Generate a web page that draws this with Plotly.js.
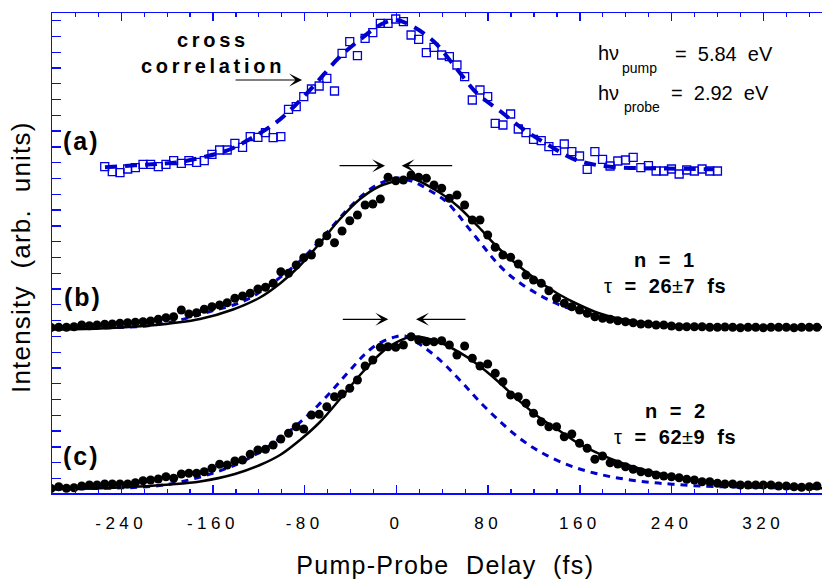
<!DOCTYPE html>
<html>
<head>
<meta charset="utf-8">
<script src="https://cdn.plot.ly/plotly-3.0.1.min.js"></script>
<style>html,body{margin:0;padding:0;background:#fff;}#chart{width:822px;height:581px;}</style>
</head>
<body>
<div id="chart"></div>
<script>
// ---- data (delay in fs, intensity in arbitrary stacked units) ----
const delayA = [-254.4,-247.8,-241.1,-234.4,-227.7,-221.0,-214.4,-207.7,-201.0,-194.3,-187.6,-181.0,-174.3,-167.6,-160.9,-154.2,-147.6,-140.9,-134.2,-127.5,-120.8,-114.2,-107.5,-100.8,-94.1,-87.4,-80.8,-74.1,-67.4,-60.7,-54.0,-47.4,-40.7,-34.0,-27.3,-20.6,-14.0,-7.3,-0.6,6.1,12.8,19.4,26.1,32.8,39.5,46.2,52.8,59.5,66.2,72.9,79.6,86.2,92.9,99.6,106.3,113.0,119.6,126.3,133.0,139.7,146.4,153.0,159.7,166.4,173.1,179.8,186.4,193.1,199.8,206.5,213.2,219.8,226.5,233.2,239.9,246.6,253.2,259.9,266.6,273.3,280.0];
const crossCorr = [326.3,321.3,320.3,324,325.3,328.7,328.7,326.3,328.7,332.3,329.7,332.3,330.7,332.3,338.7,343,343,349.7,345.7,356.3,355.7,360.3,355.3,356.3,383.7,386.3,396.3,404,407,414.7,402,439.7,451.3,437.3,454.7,460.3,469.7,469.7,474,471.3,458,453.7,440.3,445.7,438,436.3,428,416.3,393,403,396.3,369.7,368,379,364,360.3,353.7,352.3,346.3,342.3,349,341.3,337,323.7,341.3,333.7,327,332,333,335.7,325.3,327.3,322,322,324,319,323,322,324,322,322];

const fitAx = [-254.2,-228.0,-207.7,-187.3,-166.9,-146.6,-129.2,-105.9,-88.4,-71.0,-50.7,-30.3,-12.8,-1.2,11.9,32.2,52.0,70.0,90.4,109.3,132.5,156.7,186.3,235.8,276.4];
const fitAy = [325.7,327.7,329,331.3,336.3,343,353,369.7,387.5,408.5,434.7,454.7,469,473,468,452,425,400,382,365,348,333,326.3,324.5,323.7];

const delayBC = [-301.2,-294.5,-287.8,-281.2,-274.5,-267.8,-261.1,-254.4,-247.8,-241.1,-234.4,-227.7,-221.0,-214.4,-207.7,-201.0,-194.3,-187.6,-181.0,-174.3,-167.6,-160.9,-154.2,-147.6,-140.9,-134.2,-127.5,-120.8,-114.2,-107.5,-100.8,-94.1,-87.4,-80.8,-74.1,-67.4,-60.7,-54.0,-47.4,-40.7,-34.0,-27.3,-20.6,-14.0,-7.3,-0.6,6.1,12.8,19.4,26.1,32.8,39.5,46.2,52.8,59.5,66.2,72.9,79.6,86.2,92.9,99.6,106.3,113.0,119.6,126.3,133.0,139.7,146.4,153.0,159.7,166.4,173.1,179.8,186.4,193.1,199.8,206.5,213.2,219.8,226.5,233.2,239.9,246.6,253.2,259.9,266.6,273.3,280.0,286.6,293.3,300.0,306.7,313.4,320.0,326.7,333.4,340.1,346.8,353.4,360.1,366.8];
const signalN1 = [165.5,165.7,165.7,166.3,168,167.3,168,168.7,169,169.7,170.3,170.7,171.3,172,173.7,175.3,176.3,183,179,180.3,183.7,186.3,188,190.3,194.7,197,199.7,204,205.7,209.7,221.3,219.7,228,235.3,238,250.3,257.3,250.3,262,272.3,278,288,289,294,315.7,312.3,313,318,315.7,314.7,308,304.7,294.7,298,288,273,273,258,245.7,238,235.7,229,218,213,209.7,202.3,194.7,189.7,186.3,183,179.7,176.3,174.7,173.7,172.3,171.3,170.3,169,169,168,168,167,166.3,166.3,166.3,166.3,165.7,165.7,166,165.7,165.3,165.7,165.7,165.3,165.7,165.7,165.7,165.3,165.7,165.7,165.7];
const signalN2 = [4.5,6.3,4.7,5.3,7,8,8,9,9,9,9,10.3,12.3,13,14,16.3,14.7,19,19.7,19.7,21.3,24.7,28.7,28,32,33,38.7,43,43.7,48,54,59.7,66.3,64,78,78.7,86.3,96.3,99,104.7,113,127,133,145.7,146.3,145.7,148,156.3,153,151.3,151.3,152.3,148,138,147,134.7,127,129,119.7,111.3,98,96.3,89.7,79.7,71.3,66.3,66.3,56.3,59,49.7,44.7,33.7,37,30.3,29,26.3,23.7,21.3,20.3,18,17,16.3,15.3,13.7,13,11.3,11.3,9.7,9,9,8,8,8,8,8,7,7,6.3,5.7,6.3,7];

const ccBx = [-300.4,-241.1,-214.7,-188.8,-162.5,-140.8,-126.0,-110.2,-97.2,-84.1,-73.6,-59.7,-44.8,-29.9,-18.7,-5.6,1.4,16.2,31.1,42.4,52.9,59.8,70.3,79.0,88.6,99.1,109.6,120.9,132.2,147.1,161.9,177.6,203.8,229.9,264.8,317.1,371.2];
const ccBy = [164.5,165.5,167.5,173,181.5,188.5,196,208,219.5,232,244,261.5,281,297.5,307,313.5,315,310.5,301,292.5,279.5,269.5,254.5,242,229,217.5,208.5,200.5,193.5,186,181.5,177,172,168.5,166.5,165.7,165.5];
const fitBx = [-300.4,-258.5,-214.7,-171.3,-142.5,-119.0,-101.5,-84.1,-66.7,-49.2,-31.7,-14.3,3.1,11.9,36.5,54.0,71.4,88.9,106.3,123.8,141.2,158.7,176.1,193.5,211.0,240.1,269.2,371.2];
const fitBy = [163.5,164.5,167.5,174,183.5,195.5,209.5,227.5,250,274,294,307,313,315,301.3,286.3,266.3,245,227.5,212,199,188.5,180,174.5,171,168,166.5,165.7];

const ccCx = [-300.4,-214.7,-188.8,-162.5,-140.8,-125.1,-112.9,-104.1,-95.4,-86.7,-78.0,-68.4,-59.7,-51.9,-43.1,-34.4,-27.3,-16.9,-3.0,7.5,24.9,39.8,51.1,62.5,71.2,83.4,94.7,106.1,118.3,129.6,144.4,158.4,173.2,188.1,205.5,222.9,240.4,264.8,317.1,371.2];
const ccCy = [4,6.5,11,19,28,37,45.5,52.5,60,68,77,87.5,98,108,119.5,130.5,139,148.5,155.5,157,145,131,118,104,93,79,67,56,46,38.5,30.5,24.5,19.8,16,12.8,10.5,8.8,7,5.5,4.5];
const fitCx = [-300.4,-241.1,-197.5,-171.3,-140.8,-119.0,-101.5,-84.1,-66.7,-49.2,-31.7,-14.3,-1.2,14.5,36.5,54.0,71.4,88.9,106.3,123.8,141.2,158.7,176.1,193.5,211.0,228.4,248.8,269.2,298.2,327.3,371.2];
const fitCy = [3.7,5.5,8.5,11.5,19,28,38,53,71,94,118,139,150,156.5,151.3,141.3,128,111.3,93,76.3,63,49.7,39.7,31.3,24.7,19.7,14.7,11.3,8,6.3,4.7];

const tickVals = [-240,-160,-80,0,80,160,240,320];
const tickLabels = ['-240','-160','-80','0','80','160','240','320'];

// ---- styling ----
const AX = '#0a0aff';
const FITBLUE = '#0000cc';
const FONT = 'Liberation Sans, Arial, sans-serif';
const sp = (t, ls) => '<span style="letter-spacing:' + ls + 'px">' + t + '</span>';
const nb = '\u00a0';

const traces = [
  {x: delayA, y: crossCorr, mode: 'markers', marker: {symbol: 'square-open', size: 8, color: '#0000e0', line: {width: 1.3, color: '#0000e0'}}},
  {x: fitAx, y: fitAy, mode: 'lines', line: {shape: 'spline', color: FITBLUE, width: 4, dash: '12px,8px'}},
  {x: ccBx, y: ccBy, mode: 'lines', line: {shape: 'spline', color: FITBLUE, width: 3, dash: '7px,6px'}},
  {x: fitBx, y: fitBy, mode: 'lines', line: {shape: 'spline', color: '#000', width: 2.5}},
  {x: delayBC, y: signalN1, mode: 'markers', marker: {symbol: 'circle', size: 9, color: '#000'}},
  {x: ccCx, y: ccCy, mode: 'lines', line: {shape: 'spline', color: FITBLUE, width: 3, dash: '7px,6px'}},
  {x: fitCx, y: fitCy, mode: 'lines', line: {shape: 'spline', color: '#000', width: 2.5}},
  {x: delayBC, y: signalN2, mode: 'markers', marker: {symbol: 'circle', size: 9, color: '#000'}}
];

function txt(x, y, text, size, extra) {
  return Object.assign({x: x, y: y, xref: 'x', yref: 'y', text: text, showarrow: false,
    xanchor: 'center', yanchor: 'middle', font: {family: FONT, size: size, color: '#000'}}, extra || {});
}
function arrow(x, y, ax) {
  return {x: x, y: y, xref: 'x', yref: 'y', ax: ax, ay: 0, text: '', showarrow: true,
    arrowhead: 3, arrowsize: 1.8, arrowwidth: 1.2, arrowcolor: '#000', standoff: 0};
}

const annotations = [
  txt(-275.1, 352, sp('<b>(a)</b>', 2), 25),
  txt(-273.4, 196, sp('<b>(b)</b>', 2), 25),
  txt(-275.1, 37, sp('<b>(c)</b>', 2), 25),
  txt(-160.4, 453, sp('<b>cross</b>', 3.7), 20),
  txt(-160.4, 427, sp('<b>correlation</b>', 3.7), 20),
  txt(185.0, 440.5, 'hν', 20),
  txt(212.0, 425, 'pump', 14),
  txt(241.3, 439.5, '=' + nb + nb + '5.84' + nb + nb + 'eV', 20, {xanchor: 'left'}),
  txt(185.4, 400.5, 'hν', 20),
  txt(213.8, 386.5, 'probe', 14),
  txt(237.8, 400, '=' + nb + nb + '2.92' + nb + nb + 'eV', 20, {xanchor: 'left'}),
  txt(234.2, 233, sp('<b>n' + nb + nb + '=' + nb + nb + '1</b>', 0.5), 20),
  txt(234.2, 207, sp('τ' + nb + nb + '<b>=' + nb + nb + '26</b>±<b>7' + nb + nb + 'fs</b>', 0.5), 20),
  txt(243.4, 82, sp('<b>n' + nb + nb + '=' + nb + nb + '2</b>', 0.5), 20),
  txt(243.0, 56, sp('τ' + nb + nb + '<b>=' + nb + nb + '62</b>±<b>9' + nb + nb + 'fs</b>', 0.5), 20),
  arrow(-82.3, 413, -68),
  arrow(-9.9, 327.3, -47),
  arrow(4.6, 327.3, 52),
  arrow(-7.1, 173.7, -47),
  arrow(17.1, 173.7, 51)
];

const layout = {
  width: 822, height: 581,
  margin: {l: 52, r: 0, t: 13, b: 88, pad: 0},
  paper_bgcolor: '#fff', plot_bgcolor: '#fff',
  showlegend: false,
  font: {family: FONT, color: '#000'},
  xaxis: {
    range: [-300.4, 371.2], showgrid: false, zeroline: false,
    showline: true, linecolor: AX, linewidth: 1.5, mirror: 'ticks',
    ticks: 'inside', ticklen: 8, tickwidth: 1.3, tickcolor: AX,
    tickmode: 'array', tickvals: tickVals, ticktext: tickLabels.map(t => sp(t, 4.5)),
    tickfont: {family: FONT, size: 17, color: '#000'},
    ticklabelstandoff: 14,
    minor: {ticks: 'inside', ticklen: 4, tickwidth: 1.2, tickcolor: AX, tickmode: 'linear', tick0: 0, dtick: 20, showgrid: false},
    title: {text: sp(nb + nb + 'Pump-Probe' + nb + nb + 'Delay' + nb + nb + '(fs)', 1.3), font: {family: FONT, size: 25, color: '#000'}, standoff: 24},
    automargin: false
  },
  yaxis: {
    range: [0, 480], showgrid: false, zeroline: false,
    showline: true, linecolor: AX, linewidth: 1.5, mirror: false,
    ticks: 'inside', ticklen: 9, tickwidth: 1.3, tickcolor: AX,
    tickmode: 'linear', tick0: 14.5, dtick: 15.79, showticklabels: false,
    title: {text: sp('Intensity' + nb + nb + '(arb.' + nb + nb + 'units)' + nb, 1.2), font: {family: FONT, size: 26, color: '#000'}, standoff: 12},
    automargin: false
  },
  annotations: annotations
};

Plotly.newPlot('chart', traces, layout, {staticPlot: true, displayModeBar: false});
</script>
</body>
</html>
